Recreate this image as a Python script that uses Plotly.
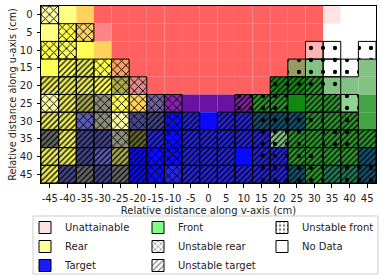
import plotly.graph_objects as go

# ---------------- data ----------------
V_VALUES = list(range(-45, 50, 5))      # columns (v-axis, cm)
U_VALUES = list(range(0, 50, 5))        # rows (u-axis, cm)
TICKS_X = list(range(-45, 50, 5))
TICK_LABELS_X = ["-45", "-40", "-35", "-30", "-25", "-20", "-15", "-10", "-5", "0",
                 "5", "10", "15", "20", "25", "30", "35", "40", "45"]
TICKS_Y = list(range(0, 50, 5))

PALETTE = {
    "R": "#FF6060", "P": "#FFE2E2", "p": "#FFB4B4", "k": "#FF8585", "W": "#FFFFFF",
    "Y": "#FFFF85", "y": "#FFFF55", "L": "#FFFFA8", "O": "#FFD25E", "o": "#FFA060",
    "Q": "#E88585", "D": "#EAEA5A", "V": "#A8A850", "G": "#8A8A78", "U": "#6E5E9E",
    "M": "#8424A4", "N": "#6A12A2", "B": "#0A0AFF", "b": "#2424DC", "S": "#5A5AB0",
    "s": "#44448C", "T": "#14506E", "F": "#44A444", "f": "#82C282", "l": "#92D492",
    "g": "#128812", "h": "#2C942C", "e": "#949A62", "t": "#217A55", "Z": "#66662C",
    "K": "#666666",
}

# cell colour codes, one string per u row (19 v columns)
CELL_COLORS = [
    "LYORRRRRRRRRRRRRPWW",
    "YyOkRRRRRRRRRRRRWWW",
    "yyyORRRRRRRRRRRpWWW",
    "yyDyoRRRRRRRRRefWWf",
    "DDDyVQRRRRRRRgghfff",
    "LDVGyOUMNNNMhhghhlF",
    "DDSGLssBbBbbTTThhhF",
    "KDssGZbBbbbbbfhhhhh",
    "DDsSVBBBbbbBbbhhhhT",
    "DsKsKBBbbbbbbbThttT",
]
# hatch codes: x = unstable rear, / = unstable target, . = none
CELL_HATCH = [
    "x..................",
    ".xx................",
    "xx.................",
    ".//xx..............",
    "////xx.......///...",
    "x//xxxxx...///.//..",
    "//xxxx/x/.////////.",
    "////x//x///////////",
    "//////xx///.///////",
    "//////xx///////////",
]
# o = unstable front marker
CELL_DOTS = [
    "...................",
    "...................",
    "...............oo.o",
    "..............oooo.",
    ".............oooo..",
    "...........ooo...o.",
    "............oooo.o.",
    "............ooo.oo.",
    "............oooo...",
    "............oooo.oo",
]

# legend entries: (label, fill, pattern, legend column)
LEGEND_ITEMS = [
    ("Unattainable", "#FFE2E2", "", "legend"),
    ("Rear", "#FFFF99", "", "legend"),
    ("Target", "#1A1AFF", "", "legend"),
    ("Front", "#80FF80", "", "legend2"),
    ("Unstable rear", "#FFFFFF", "x", "legend2"),
    ("Unstable target", "#FFFFFF", "/", "legend2"),
    ("Unstable front", "#FFFFFF", ".", "legend3"),
    ("No Data", "#FFFFFF", "", "legend3"),
]

# ---------------- build ----------------
CLEAR = "rgba(0,0,0,0)"
xs, bases, cols, shapes, sizes, sols = [], [], [], [], [], []
dot_shapes, widths = [], []
for ri, u in enumerate(U_VALUES):
    for ci, v in enumerate(V_VALUES):
        xs.append(v)
        bases.append(u - 2.5)
        cols.append(PALETTE[CELL_COLORS[ri][ci]])
        h = CELL_HATCH[ri][ci]
        if h == "x":
            shapes.append("x"); sizes.append(6); sols.append(0.28)
        elif h == "/":
            shapes.append("/"); sizes.append(4); sols.append(0.3)
        else:
            shapes.append(""); sizes.append(6); sols.append(0.3)
        d = CELL_DOTS[ri][ci] == "o"
        dot_shapes.append("." if d else "")
        widths.append(1 if (d or h in "x/") else 0)

n = len(xs)
heights = [5] * n
fig = go.Figure()
# 1) cell colours
fig.add_trace(go.Bar(
    x=xs, y=heights, base=bases, width=5, showlegend=False, hoverinfo="skip",
    marker=dict(color=cols, line=dict(width=0)),
))
# 2) hatches (unstable rear / unstable target)
fig.add_trace(go.Bar(
    x=xs, y=heights, base=bases, width=5, showlegend=False, hoverinfo="skip",
    marker=dict(color=CLEAR, line=dict(width=0),
                pattern=dict(shape=shapes, fgcolor="black", bgcolor=CLEAR,
                             fgopacity=1, size=sizes, solidity=sols,
                             fillmode="replace")),
))
# 3) unstable-front markers and cell borders
fig.add_trace(go.Bar(
    x=xs, y=heights, base=bases, width=5, showlegend=False, hoverinfo="skip",
    marker=dict(color=CLEAR, line=dict(color="black", width=widths),
                pattern=dict(shape=dot_shapes, fgcolor="black", bgcolor=CLEAR,
                             fgopacity=1, size=12, solidity=0.1,
                             fillmode="replace")),
))
for label, fill, pat, leg in LEGEND_ITEMS:
    fig.add_trace(go.Bar(
        x=[None], y=[None], name=label, legend=leg,
        marker=dict(color=fill, line=dict(color="black", width=1),
                    pattern=dict(shape=pat, fgcolor="black", bgcolor=fill,
                                 size=5, solidity=0.3)),
    ))

font = dict(family="DejaVu Sans", size=10, color="#222222")
PLOT_L, PLOT_W, PLOT_B, PLOT_H = 41, 335, 183, 177


def px_x(p):
    return (p - PLOT_L) / PLOT_W


def px_y(p):
    return -(p - PLOT_B) / PLOT_H


leg_common = dict(orientation="v", xanchor="left", yanchor="top", y=px_y(213),
                  bgcolor=CLEAR, borderwidth=0, font=font, itemwidth=30,
                  traceorder="normal")
fig.update_layout(
    width=384, height=278,
    margin=dict(l=41, r=8, t=6, b=95, autoexpand=False),
    barmode="overlay",
    paper_bgcolor="white", plot_bgcolor="white",
    font=font,
    xaxis=dict(range=[-47.5, 47.5], tickvals=TICKS_X, ticktext=TICK_LABELS_X,
               tickangle=0, ticks="outside", ticklen=3.5, ticklabelstandoff=2,
               tickcolor="black", showline=True, linecolor="black", linewidth=1,
               mirror=True, showgrid=False, zeroline=False,
               title=dict(text="Relative distance along v-axis (cm)", standoff=4,
                          font=font)),
    yaxis=dict(range=[47.5, -2.5], tickvals=TICKS_Y, ticks="outside", ticklen=3.5,
               ticklabelstandoff=2,
               tickcolor="black", showline=True, linecolor="black", linewidth=1,
               mirror=True, showgrid=False, zeroline=False,
               title=dict(text="Relative distance along u-axis (cm)", standoff=1,
                          font=dict(family="DejaVu Sans", size=9.8, color="#222222"))),
    legend=dict(x=px_x(25), **leg_common),
    legend2=dict(x=px_x(138), **leg_common),
    legend3=dict(x=px_x(262), **leg_common),
    shapes=[dict(type="rect", xref="paper", yref="paper",
                 x0=px_x(33), x1=px_x(378), y0=px_y(274), y1=px_y(216),
                 line=dict(color="#CCCCCC", width=1), fillcolor=CLEAR, layer="below")],
)
fig.write_html("out.html", config={"displayModeBar": False},
               post_script="document.body.style.margin='0';document.body.style.overflow='hidden';")
